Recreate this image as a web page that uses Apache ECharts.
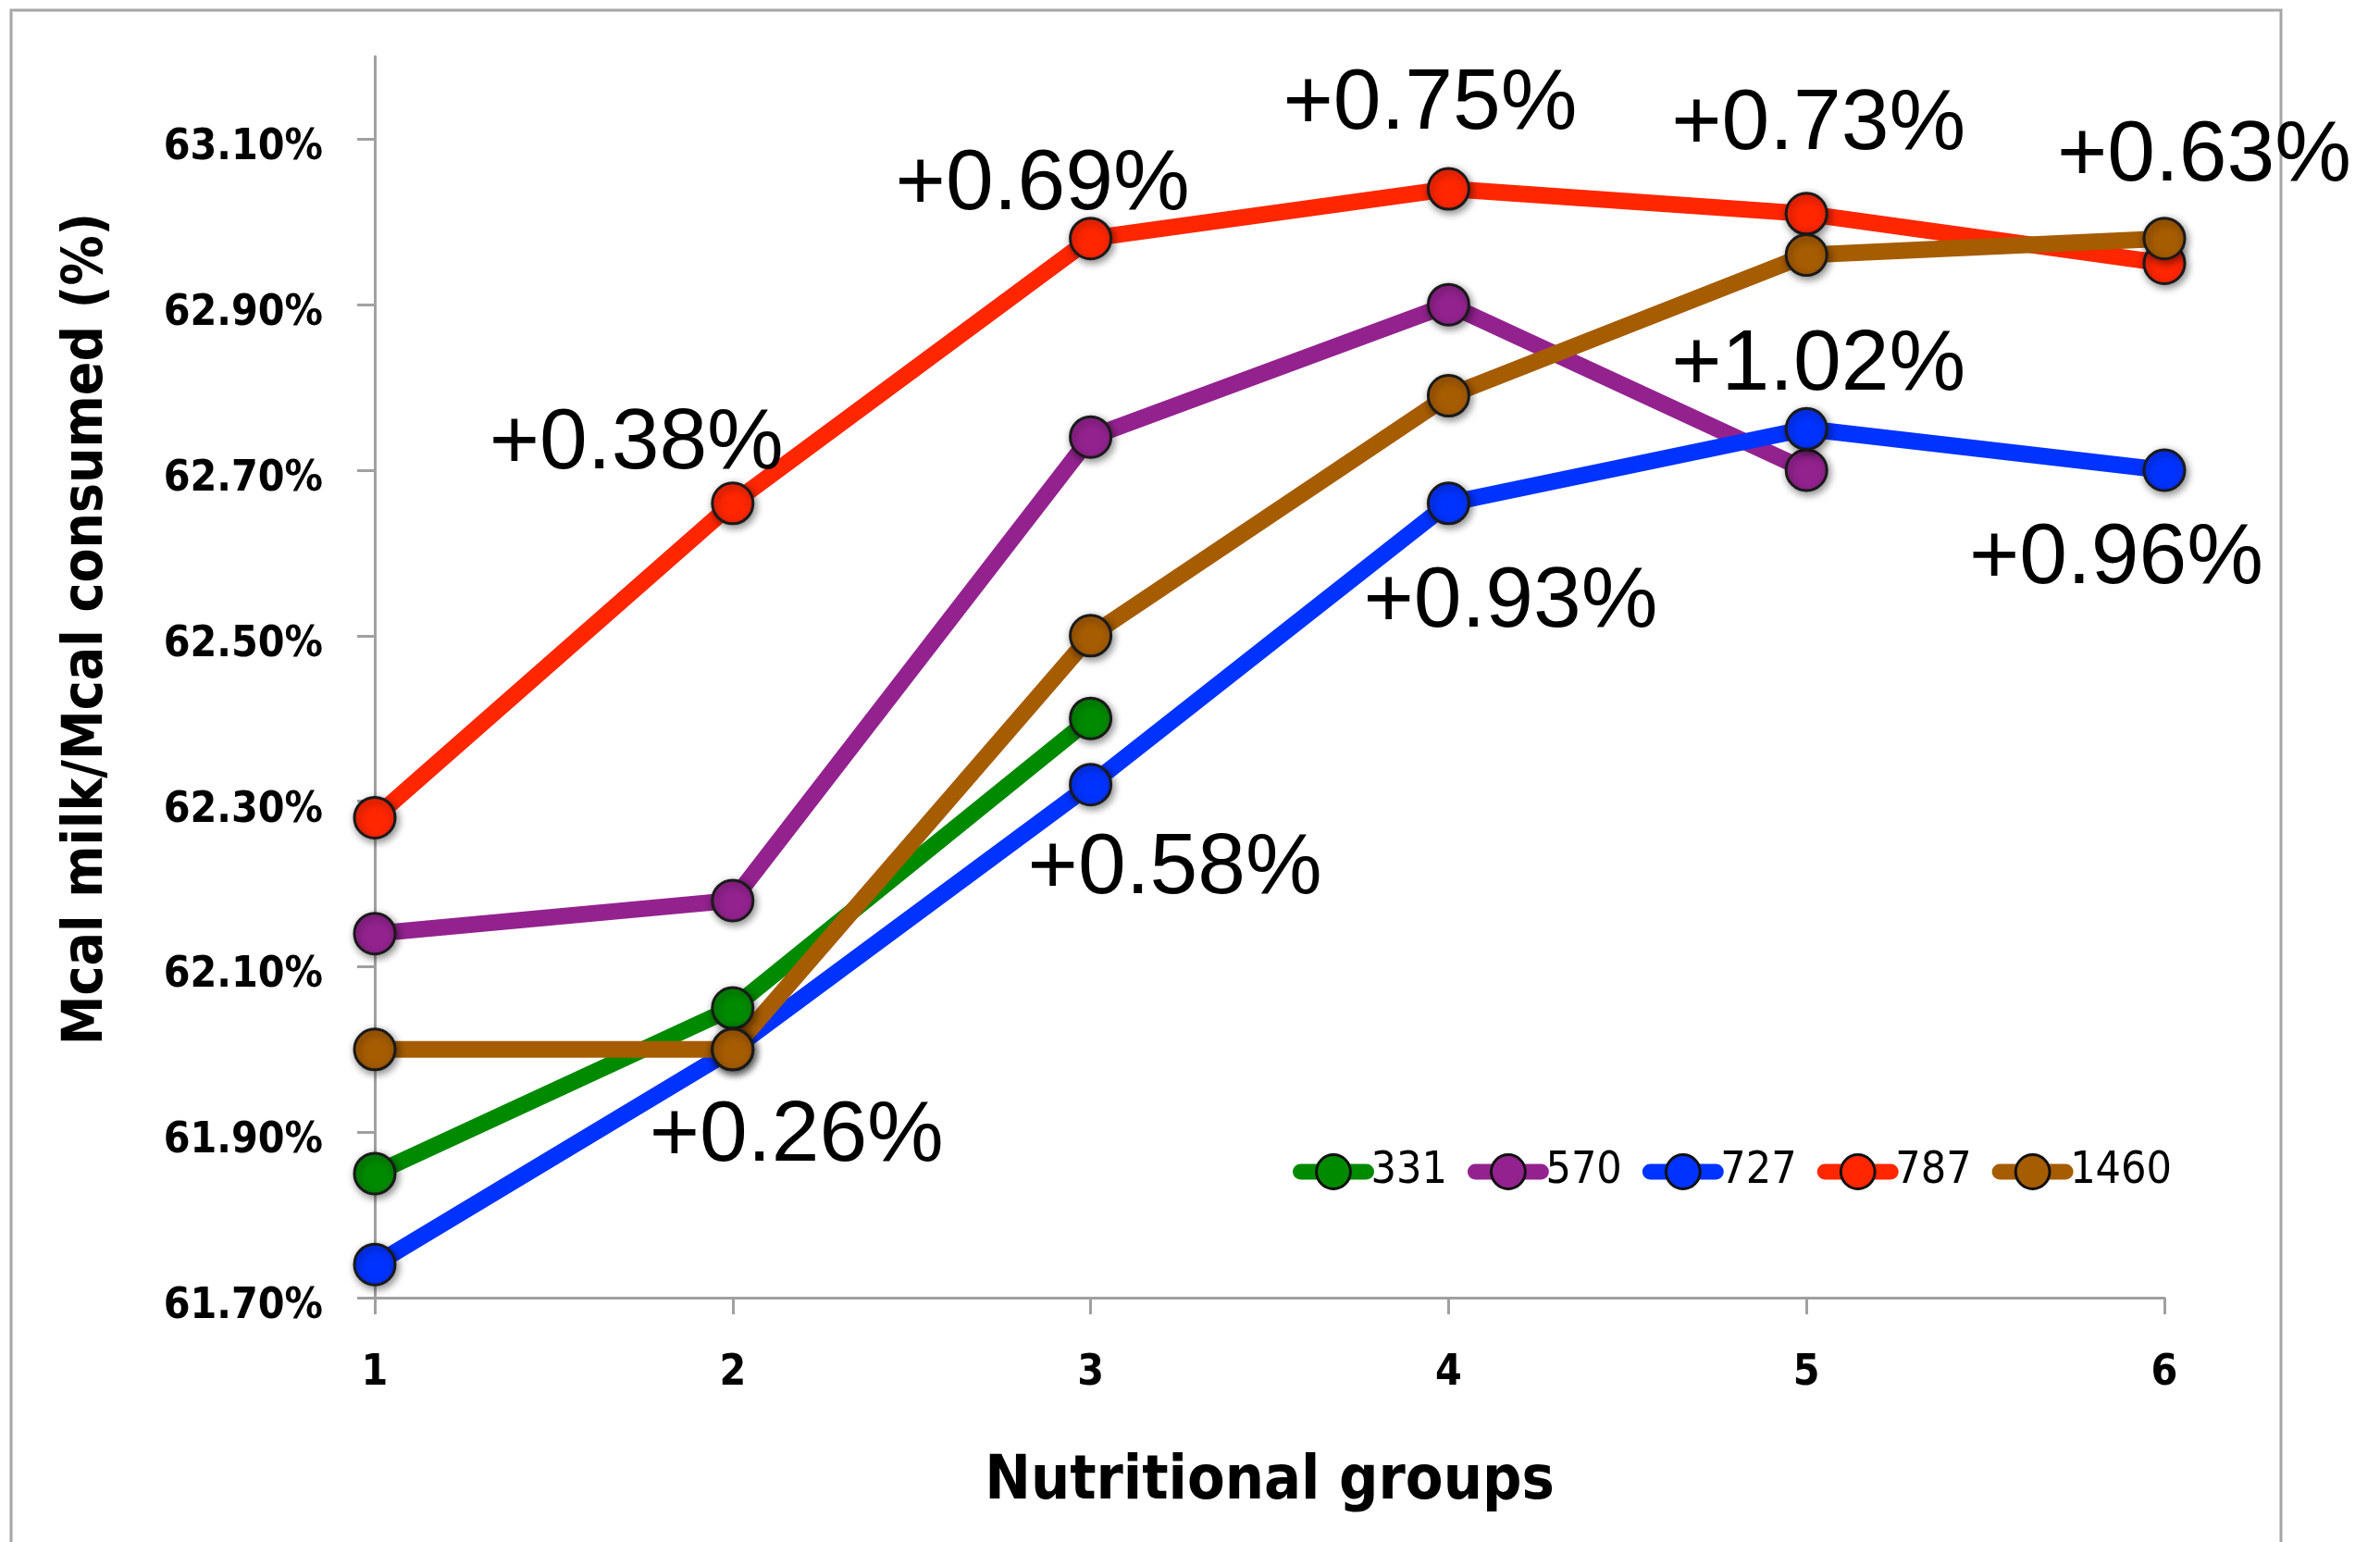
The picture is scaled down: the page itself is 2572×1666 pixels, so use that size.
<!DOCTYPE html>
<html>
<head>
<meta charset="utf-8">
<script src="https://cdn.jsdelivr.net/npm/echarts@6/dist/echarts.min.js"></script>
<style>
html,body{margin:0;padding:0;background:#fff;}
#chart{width:2572px;height:1666px;}
</style>
</head>
<body>
<div id="chart"></div>
<script>
// ---- data ----
const groups = [1, 2, 3, 4, 5, 6];
const seriesNames = ['331', '570', '727', '787', '1460'];
const s331 = [61.85, 62.05, 62.40];
const s570 = [62.14, 62.18, 62.74, 62.90, 62.70];
const s727 = [61.74, 62.00, 62.32, 62.66, 62.75, 62.70];
const s787 = [62.28, 62.66, 62.98, 63.04, 63.01, 62.95];
const s1460 = [62.00, 62.00, 62.50, 62.79, 62.96, 62.98];
const yTicks = [61.7, 61.9, 62.1, 62.3, 62.5, 62.7, 62.9, 63.1];
const notes787 = ['', '+0.38%', '+0.69%', '+0.75%', '+0.73%', '+0.63%'];
const notes727 = ['', '+0.26%', '+0.58%', '+0.93%', '+1.02%', '+0.96%'];

// ---- styles (label offsets in px) ----
const offs787 = [null, [-104, -63], [-52, -57], [-20, -91], [13, -96], [43, -115]];
const offs727 = [null, [69, 95], [91, 92], [67, 108], [13, -68], [-52, 96]];
const colors = ['#008a00', '#93228f', '#0033ff', '#ff2600', '#a65c00'];
const allValues = [s331, s570, s727, s787, s1460];

const condFont = "'DejaVu Sans Condensed', 'Liberation Sans', sans-serif";
const noteFont = "'Liberation Sans', Arial, Helvetica, sans-serif";

function buildData(vals, notes, offs) {
  return vals.map(function (v, i) {
    const item = { value: [groups[i], v] };
    if (notes && notes[i]) {
      item.label = {
        show: true,
        position: 'inside',
        formatter: notes[i],
        offset: offs[i],
        fontFamily: noteFont,
        fontSize: 93,
        fontWeight: 'normal',
        color: '#000'
      };
    }
    return item;
  });
}

const series = seriesNames.map(function (name, k) {
  let notes = null, offs = null;
  if (name === '787') { notes = notes787; offs = offs787; }
  if (name === '727') { notes = notes727; offs = offs727; }
  return {
    name: name,
    type: 'line',
    data: buildData(allValues[k], notes, offs),
    symbol: 'circle',
    symbolSize: 44,
    clip: false,
    lineStyle: { color: colors[k], width: 18, cap: 'round', join: 'round' },
    itemStyle: {
      color: colors[k],
      borderColor: '#1a1a1a',
      borderWidth: 3,
      shadowBlur: 8,
      shadowColor: 'rgba(0,0,0,0.45)',
      shadowOffsetX: 2,
      shadowOffsetY: 3
    },
    label: { show: false },
    emphasis: { disabled: true },
    animation: false
  };
});

const chart = echarts.init(document.getElementById('chart'), null, { renderer: 'canvas' });
chart.setOption({
  backgroundColor: '#fff',
  animation: false,
  graphic: [{
    type: 'rect',
    shape: { x: 12, y: 11, width: 2453, height: 1720 },
    style: { fill: 'none', stroke: '#a6a6a6', lineWidth: 3 },
    silent: true,
    z: -10
  }],
  grid: { left: 405, top: 61, width: 1934, height: 1341, containLabel: false },
  legend: {
    data: seriesNames,
    left: 1397,
    top: 1242,
    padding: 0,
    itemWidth: 71,
    itemHeight: 46,
    itemGap: 22,
    lineStyle: { width: 17, cap: 'round' },
    itemStyle: { borderWidth: 3, borderColor: '#111', shadowBlur: 0, shadowOffsetX: 0, shadowOffsetY: 0 },
    textStyle: { fontFamily: condFont, fontSize: 48, color: '#000' }
  },
  xAxis: {
    type: 'value',
    min: 1,
    max: 6,
    interval: 1,
    name: 'Nutritional groups',
    nameLocation: 'middle',
    nameGap: 167,
    nameTextStyle: { fontFamily: condFont, fontSize: 66, fontWeight: 'bold', color: '#000' },
    axisLine: { show: true, onZero: false, lineStyle: { color: '#a0a0a0', width: 3 } },
    axisTick: { show: true, length: 18, lineStyle: { color: '#a0a0a0', width: 3 } },
    axisLabel: { margin: 59, fontFamily: condFont, fontSize: 46, fontWeight: 'bold', color: '#000' },
    splitLine: { show: false }
  },
  yAxis: {
    type: 'value',
    min: 61.7,
    max: 63.2,
    name: 'Mcal milk/Mcal consumed (%)',
    nameLocation: 'middle',
    nameGap: 281,
    nameTextStyle: { fontFamily: condFont, fontSize: 60, fontWeight: 'bold', color: '#000', padding: [0, 0, 0, 104] },
    axisLine: { show: true, lineStyle: { color: '#a0a0a0', width: 3 } },
    axisTick: { show: true, length: 19, customValues: yTicks, lineStyle: { color: '#a0a0a0', width: 3 } },
    axisLabel: {
      customValues: yTicks,
      margin: 56,
      verticalAlign: 'top',
      lineHeight: 20,
      fontFamily: condFont,
      fontSize: 46,
      fontWeight: 'bold',
      color: '#000',
      formatter: function (v) { return v.toFixed(2) + '%'; }
    },
    splitLine: { show: false }
  },
  series: series
});
</script>
</body>
</html>
